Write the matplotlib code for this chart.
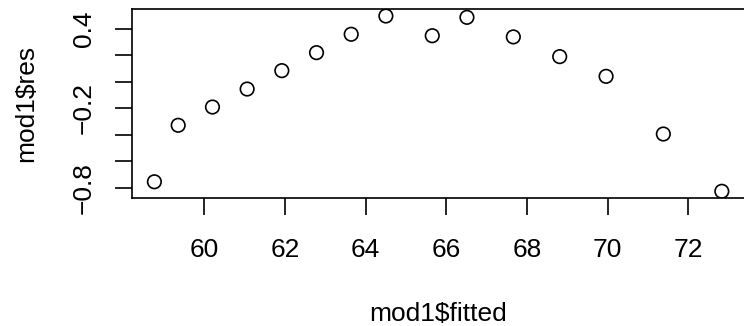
import matplotlib
matplotlib.use("Agg")
import matplotlib.pyplot as plt

plt.rcParams['font.family'] = ['Liberation Sans', 'DejaVu Sans']

# values
fitted = [58.76, 59.35, 60.20, 61.06, 61.92, 62.78, 63.64, 64.50,
          65.65, 66.51, 67.66, 68.81, 69.96, 71.38, 72.83]
res = [-0.755, -0.328, -0.190, -0.054, 0.085, 0.221, 0.360, 0.498,
       0.349, 0.488, 0.340, 0.191, 0.042, -0.394, -0.827]

xticks = [60, 62, 64, 66, 68, 70, 72]
yticks = [0.4, 0.2, 0.0, -0.2, -0.4, -0.6, -0.8]
ytick_labels = ['0.4', '', '', '\u22120.2', '', '', '\u22120.8']

fig = plt.figure(figsize=(7.44, 3.26), dpi=100)
ax = fig.add_axes([0.1770, 0.3917, 0.8237, 0.5807])

ax.scatter(fitted, res, s=95, facecolors='none', edgecolors='black', linewidths=1.2, zorder=3)

# R style 4% padding
xr = max(fitted) - min(fitted)
yr = max(res) - min(res)
ax.set_xlim(min(fitted) - 0.04 * xr, max(fitted) + 0.04 * xr)
ax.set_ylim(min(res) - 0.04 * yr, max(res) + 0.04 * yr)

ax.set_xticks(xticks)
ax.set_xticklabels([str(t) for t in xticks])
ax.set_yticks(yticks)
ax.set_yticklabels(ytick_labels, rotation=90, va='center')

ax.tick_params(axis='both', length=12.3, width=1.2, labelsize=19, direction='out')
ax.tick_params(axis='x', pad=16)
ax.tick_params(axis='y', pad=13.5)
for s in ax.spines.values():
    s.set_linewidth(1.2)

ax.set_xlabel('mod1$fitted', fontsize=19)
ax.set_ylabel('mod1$res', fontsize=19)
ax.xaxis.set_label_coords(0.5, -0.611)
ax.yaxis.set_label_coords(-0.172, 0.5)
ax.xaxis.label.set_va('center')
ax.yaxis.label.set_va('center')

fig.savefig('out.png', dpi=100)
